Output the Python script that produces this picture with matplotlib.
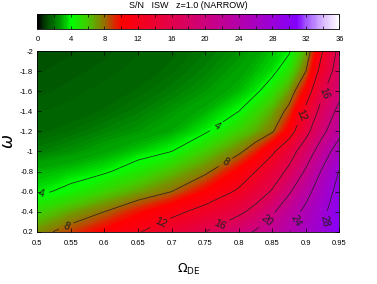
import numpy as np
import matplotlib
matplotlib.use('Agg')
import matplotlib.pyplot as plt
from matplotlib.colors import LinearSegmentedColormap, Normalize
from matplotlib.cm import ScalarMappable

# grid
omega_de = [0.5, 0.55, 0.6, 0.65, 0.7, 0.75, 0.8, 0.825, 0.85, 0.875, 0.9, 0.925, 0.95]
w_vals = [-2.0, -1.8, -1.6, -1.4, -1.2, -1.0, -0.8, -0.6, -0.4, -0.2]
sn_w20 = [1.3, 1.35, 1.45, 1.6, 1.8, 2.1, 2.5, 2.85, 3.3, 3.8, 6.6, 12.0, 17.0]
sn_w18 = [1.35, 1.45, 1.55, 1.7, 1.95, 2.3, 2.8, 3.2, 3.6, 5.1, 8.0, 13.5, 17.8]
sn_w16 = [1.45, 1.55, 1.7, 1.9, 2.2, 2.6, 3.2, 3.7, 5.0, 6.9, 10.2, 15.6, 19.0]
sn_w14 = [1.6, 1.7, 1.9, 2.2, 2.6, 3.1, 4.0, 5.3, 6.6, 8.6, 12.8, 17.4, 21.0]
sn_w12 = [1.8, 2.0, 2.3, 2.6, 3.0, 3.8, 5.7, 6.6, 7.8, 10.5, 15.0, 19.2, 23.0]
sn_w10 = [2.2, 2.5, 2.9, 3.4, 4.0, 5.8, 7.6, 9.2, 11.5, 14.5, 17.9, 22.1, 26.0]
sn_w08 = [3.1, 3.4, 3.8, 4.8, 6.2, 7.6, 10.3, 12.0, 14.2, 16.7, 20.5, 24.5, 28.2]
sn_w06 = [3.7, 4.4, 5.6, 6.8, 8.0, 10.1, 12.4, 14.3, 16.3, 19.6, 22.9, 26.1, 29.2]
sn_w04 = [5.5, 6.75, 8.0, 9.6, 11.2, 13.0, 15.3, 17.0, 19.5, 22.3, 24.8, 27.3, 30.0]
sn_w02 = [7.3, 8.8, 10.3, 11.8, 13.85, 16.0, 18.8, 20.3, 22.1, 23.9, 26.0, 28.0, 30.5]
contour_levels = [4, 8, 12, 16, 20, 24, 28]
x_ticks = [0.5, 0.55, 0.6, 0.65, 0.7, 0.75, 0.8, 0.85, 0.9, 0.95]
x_labels = ['0.5', '0.55', '0.6', '0.65', '0.7', '0.75', '0.8', '0.85', '0.9', '0.95']
y_ticks = [-2.0, -1.8, -1.6, -1.4, -1.2, -1.0, -0.8, -0.6, -0.4, -0.2]
y_labels = ['-2', '-1.8', '-1.6', '-1.4', '-1.2', '-1', '-0.8', '-0.6', '-0.4', '0.2']
cbar_ticks = [0, 4, 8, 12, 16, 20, 24, 28, 32, 36]

sn = np.array([sn_w20, sn_w18, sn_w16, sn_w14, sn_w12, sn_w10,
               sn_w08, sn_w06, sn_w04, sn_w02])

# colour table (value, rgb)
anchors = [(0, (0, 0, 0)), (1, (0, 70, 0)), (2, (0, 115, 0)), (3, (0, 175, 0)),
           (4, (0, 255, 0)), (6, (70, 200, 0)), (8, (150, 110, 0)), (9, (210, 50, 0)),
           (10, (255, 0, 0)), (12, (245, 0, 25)), (16, (225, 0, 75)), (20, (205, 0, 125)),
           (24, (180, 0, 170)), (28, (155, 0, 215)), (31, (130, 0, 255)),
           (32, (160, 80, 255)), (34, (215, 180, 255)), (36, (255, 255, 255))]
cmap = LinearSegmentedColormap.from_list(
    'isw', [(v / 36.0, tuple(c / 255.0 for c in rgb)) for v, rgb in anchors])
norm = Normalize(0, 36)

plt.rcParams['font.family'] = 'Liberation Sans'

fig = plt.figure(figsize=(3.77, 2.84), dpi=100)
ax = fig.add_axes([0.099, 0.184, 0.8015, 0.636])

ax.contourf(omega_de, w_vals, sn, levels=np.linspace(0, 36, 289),
            cmap=cmap, norm=norm, antialiased=False)
cs = ax.contour(omega_de, w_vals, sn, levels=contour_levels,
                colors='#202020', linewidths=0.5)
ax.clabel(cs, fmt='%d', fontsize=7.5, inline=True,
          manual=[(0.506, -0.58), (0.765, -1.27), (0.544, -0.24), (0.781, -0.884),
                  (0.683, -0.29), (0.895, -1.36), (0.77, -0.29), (0.926, -1.58),
                  (0.843, -0.31), (0.886, -0.3), (0.93, -0.3)])

ax.set_xlim(0.5, 0.95)
ax.set_ylim(-2.0, -0.2)
ax.invert_yaxis()
ax.set_xticks(x_ticks)
ax.set_xticklabels(x_labels)
ax.set_yticks(y_ticks)
ax.set_yticklabels(y_labels)
ax.tick_params(direction='in', top=True, right=True, labelsize=5.5,
               length=3, width=0.5)
ax.tick_params(axis='x', pad=6)
ax.tick_params(axis='y', pad=3)
for s in ax.spines.values():
    s.set_linewidth(0.6)
ax.set_xlabel(r'$\Omega_{\rm DE}$', fontsize=9, labelpad=11)
ax.set_ylabel(r'$\omega$', fontsize=12, labelpad=3)

# colour bar on top
cax = fig.add_axes([0.099, 0.898, 0.8015, 0.053])
cb = fig.colorbar(ScalarMappable(norm=norm, cmap=cmap), cax=cax, orientation='horizontal')
cb.set_ticks(cbar_ticks)
cb.ax.set_xticks(np.arange(0, 37, 2), minor=True)
cb.ax.tick_params(which='both', direction='in', top=True, bottom=True,
                  labelsize=5.5, length=2.5, width=0.5, pad=5)
cb.outline.set_linewidth(0.6)

fig.text(0.5, 1 - 6 / 284, 'S/N   ISW   z=1.0 (NARROW)', ha='center', va='center', fontsize=6.5)

fig.savefig('out.png', dpi=100)
